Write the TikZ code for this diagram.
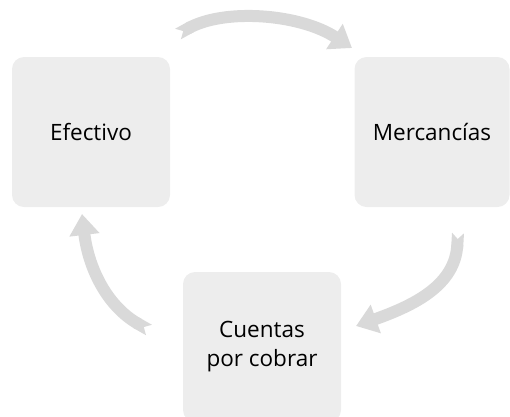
\documentclass[tikz,border=0pt]{standalone}
\usepackage{fontspec}
\setmainfont{Open Sans}
\usetikzlibrary{arrows.meta, positioning}
\definecolor{boxgray}{HTML}{EDEDED}
\definecolor{arrowgray}{HTML}{D9D9D9}
\tikzset{
  stockbox/.style={rectangle, rounded corners=12pt, fill=boxgray,
    minimum width=158pt, minimum height=150pt, align=center,
    font=\fontsize{22.5}{29}\selectfont},
  flowarrow/.style={arrowgray, line width=12pt,
    {Triangle Cap[reversed]}-{Triangle[length=21pt, width=29pt]}}
}
\begin{document}
\begin{tikzpicture}[x=1pt, y=-1pt]
  \useasboundingbox (0,0) rectangle (510,416);
  \node[stockbox] (efectivo) at (91,132) {Efectivo};
  \node[stockbox, minimum width=155pt] (mercancias) at (432,132) {Mercancías};
  \node[stockbox] (cuentas) at (262,347) {Cuentas\\por cobrar};
  % ends of the arrows
  \coordinate (ef-out) at (178,34);
  \coordinate (me-in) at (352,48);
  \coordinate (me-out) at (458,233);
  \coordinate (cu-in) at (356,326);
  \coordinate (cu-out) at (149,330);
  \coordinate (ef-in) at (82,214);
  \draw[flowarrow] (ef-out) .. controls (225,8) and (300,14) .. (me-in);
  \draw[flowarrow] (me-out) .. controls (455,285) and (415,305) .. (cu-in);
  \draw[flowarrow] (cu-out) .. controls (105,305) and (88,265) .. (ef-in);
\end{tikzpicture}
\end{document}
